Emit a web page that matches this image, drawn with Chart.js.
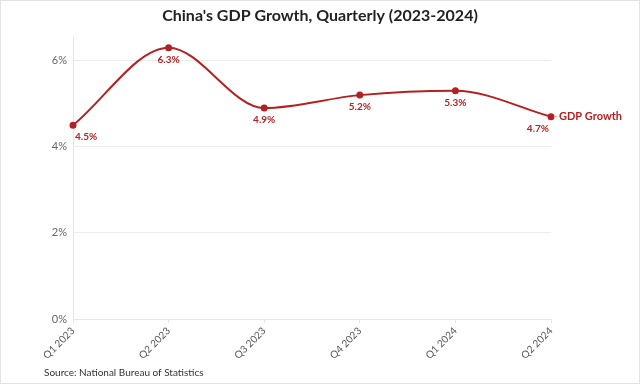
<!DOCTYPE html>
<html>
<head>
<meta charset="utf-8">
<script src="https://cdn.jsdelivr.net/npm/chart.js@4"></script>
<style>
  html, body { margin: 0; padding: 0; background: #fff; }
  #wrap { width: 638px; height: 382px; border: 1px solid #e2e2e2; }
</style>
</head>
<body>
<div id="wrap"><canvas id="gdpChart" width="638" height="382"></canvas></div>
<script>
const quarters = ['Q1 2023', 'Q2 2023', 'Q3 2023', 'Q4 2023', 'Q1 2024', 'Q2 2024'];
const gdpGrowth = [4.5, 6.3, 4.9, 5.2, 5.3, 4.7];
const yTicks = [0, 2, 4, 6];
const seriesName = 'GDP Growth';
const chartTitle = "China's GDP Growth, Quarterly (2023-2024)";
const sourceNote = 'Source: National Bureau of Statistics';

const red = '#b22222';
const font = 'Lato, "Open Sans", sans-serif';

// title, labels under each point, series name at the end, source note
const labelPlugin = {
  id: 'labels',
  afterDatasetsDraw(chart) {
    const ctx = chart.ctx;
    const area = chart.chartArea;
    const meta = chart.getDatasetMeta(0);
    ctx.save();
    ctx.textBaseline = 'middle';

    ctx.fillStyle = '#222';
    ctx.font = 'bold 16px ' + font;
    ctx.textAlign = 'center';
    ctx.fillText(chartTitle, chart.width / 2, 15);

    ctx.fillStyle = red;
    ctx.font = 'bold 10px ' + font;
    ctx.textAlign = 'left';
    meta.data.forEach(function (pt, i) {
      const txt = gdpGrowth[i].toFixed(1) + '%';
      const w = ctx.measureText(txt).width;
      let x = pt.x - w / 2;
      x = Math.max(area.left + 2, Math.min(area.right - w - 2, x));
      ctx.fillText(txt, x, pt.y + 12);
    });

    const last = meta.data[meta.data.length - 1];
    ctx.strokeStyle = '#d99';
    ctx.lineWidth = 1;
    ctx.beginPath();
    ctx.moveTo(last.x + 3, last.y);
    ctx.lineTo(last.x + 6, last.y);
    ctx.stroke();
    ctx.font = 'bold 11px ' + font;
    ctx.fillText(seriesName, last.x + 8, last.y);

    ctx.fillStyle = '#333';
    ctx.font = '10px ' + font;
    ctx.fillText(sourceNote, 43, chart.height - 10);
    ctx.restore();
  }
};

new Chart(document.getElementById('gdpChart'), {
  type: 'line',
  data: {
    labels: quarters,
    datasets: [{
      label: seriesName,
      data: gdpGrowth,
      borderColor: red,
      backgroundColor: red,
      borderWidth: 2,
      pointRadius: 2.5,
      cubicInterpolationMode: 'monotone'
    }]
  },
  options: {
    responsive: false,
    animation: false,
    layout: { padding: { left: 9, right: 88, top: 36, bottom: 20 } },
    plugins: {
      legend: { display: false },
      tooltip: { enabled: false },
      title: { display: false }
    },
    scales: {
      x: {
        offset: false,
        border: { color: '#e6e6e6' },
        grid: { display: true, drawOnChartArea: false, tickLength: 4, color: '#e6e6e6' },
        ticks: { color: '#555', font: { family: font, size: 10 }, maxRotation: 45, minRotation: 45, padding: 2 },
        afterFit(s) { s.height = 44; }
      },
      y: {
        min: 0,
        max: 6.55,
        border: { color: '#e6e6e6' },
        grid: { color: '#ececec', drawTicks: false },
        ticks: { color: '#666', font: { family: font, size: 11 }, padding: 6, callback: v => v + '%' },
        afterBuildTicks(s) { s.ticks = yTicks.map(v => ({ value: v })); },
        afterFit(s) { s.width = 63; }
      }
    }
  },
  plugins: [labelPlugin]
});
</script>
</body>
</html>
